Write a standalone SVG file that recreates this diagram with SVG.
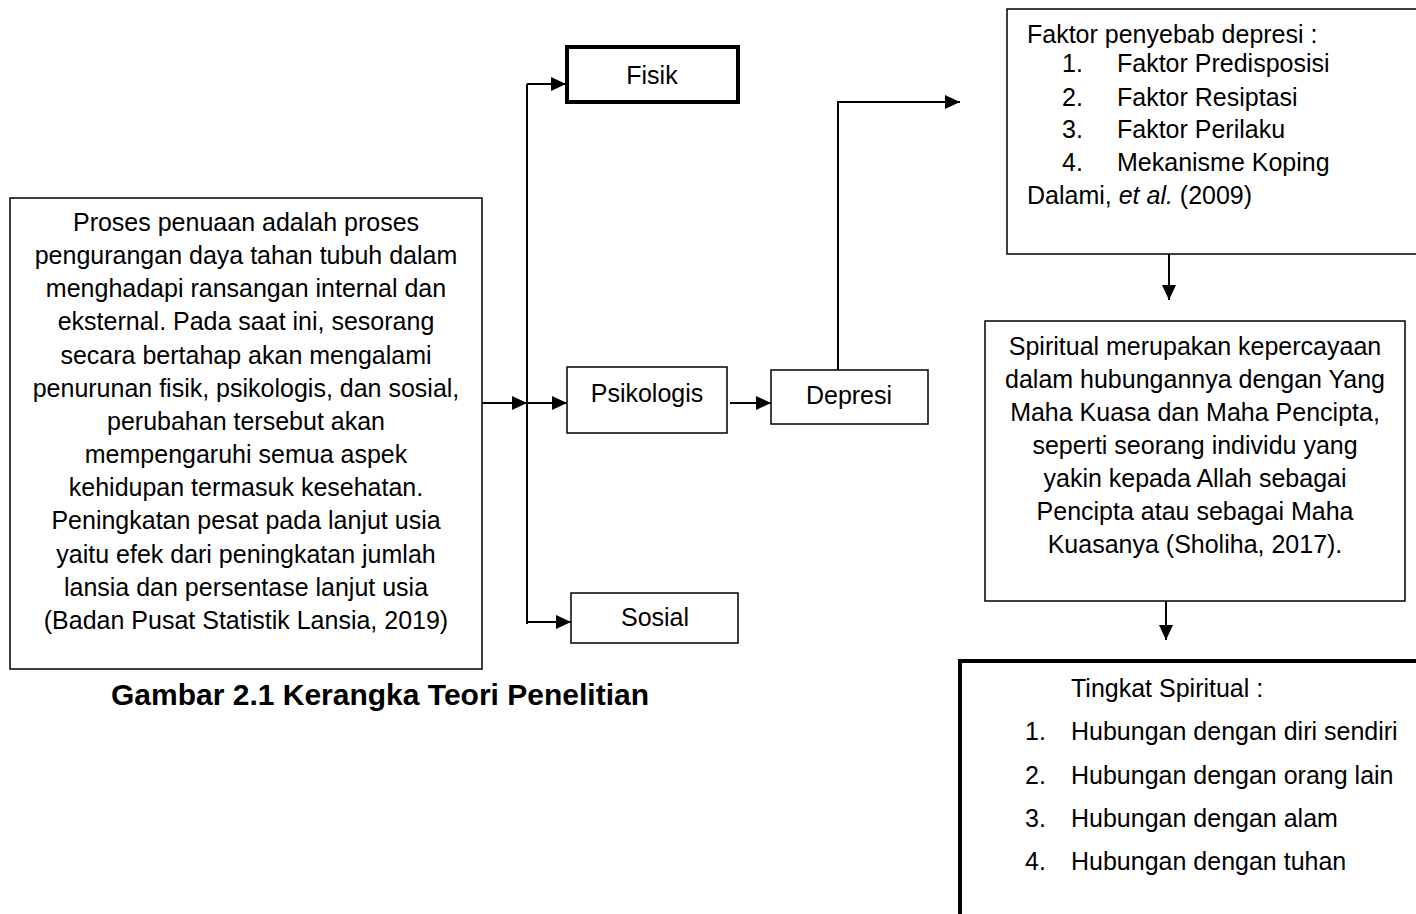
<svg xmlns="http://www.w3.org/2000/svg" width="1416" height="914" viewBox="0 0 1416 914">
<style>
text{font-family:"Liberation Sans",Arial,sans-serif;font-size:25px;fill:#000}
.c{text-anchor:middle}
.cap{font-weight:bold;font-size:30px}
.box{fill:#fff;stroke:#000;stroke-width:1.5}
.thick{fill:#fff;stroke:#000;stroke-width:4}
.ln{fill:none;stroke:#000;stroke-width:2}
</style>
<defs>
<marker id="ah" markerUnits="userSpaceOnUse" markerWidth="15" markerHeight="14" refX="15" refY="7" orient="auto">
<path d="M0,0 L15,7 L0,14 Z" fill="#000"/>
</marker>
</defs>
<g id="connectors">
<line class="ln" x1="482" y1="403" x2="527" y2="403" marker-end="url(#ah)"/>
<line class="ln" x1="527" y1="84" x2="527" y2="624"/>
<line class="ln" x1="527" y1="84" x2="566" y2="84" marker-end="url(#ah)"/>
<line class="ln" x1="527" y1="403" x2="567" y2="403" marker-end="url(#ah)"/>
<line class="ln" x1="527" y1="622" x2="571" y2="622" marker-end="url(#ah)"/>
<line class="ln" x1="730" y1="403" x2="771" y2="403" marker-end="url(#ah)"/>
<polyline class="ln" points="838,370 838,102 960,102" marker-end="url(#ah)"/>
<line class="ln" x1="1169" y1="254" x2="1169" y2="300" marker-end="url(#ah)"/>
<line class="ln" x1="1166" y1="601" x2="1166" y2="640" marker-end="url(#ah)"/>
</g>
<g id="proses">
<rect class="box" x="10" y="198" width="472" height="471"/>
<text class="c" x="246" y="231">Proses penuaan adalah proses</text>
<text class="c" x="246" y="264">pengurangan daya tahan tubuh dalam</text>
<text class="c" x="246" y="297">menghadapi ransangan internal dan</text>
<text class="c" x="246" y="330">eksternal. Pada saat ini, sesorang</text>
<text class="c" x="246" y="364">secara bertahap akan mengalami</text>
<text class="c" x="246" y="397">penurunan fisik, psikologis, dan sosial,</text>
<text class="c" x="246" y="430">perubahan tersebut akan</text>
<text class="c" x="246" y="463">mempengaruhi semua aspek</text>
<text class="c" x="246" y="496">kehidupan termasuk kesehatan.</text>
<text class="c" x="246" y="529">Peningkatan pesat pada lanjut usia</text>
<text class="c" x="246" y="563">yaitu efek dari peningkatan jumlah</text>
<text class="c" x="246" y="596">lansia dan persentase lanjut usia</text>
<text class="c" x="246" y="629">(Badan Pusat Statistik Lansia, 2019)</text>
</g>
<g id="fisik">
<rect class="thick" x="567" y="47" width="171" height="55"/>
<text class="c" x="652" y="84">Fisik</text>
</g>
<g id="psikologis">
<rect class="box" x="567" y="367" width="160" height="66"/>
<text class="c" x="647" y="402">Psikologis</text>
</g>
<g id="sosial">
<rect class="box" x="571" y="593" width="167" height="50"/>
<text class="c" x="655" y="626">Sosial</text>
</g>
<g id="depresi">
<rect class="box" x="771" y="370" width="157" height="54"/>
<text class="c" x="849" y="404">Depresi</text>
</g>
<g id="faktor">
<rect class="box" x="1007" y="9" width="460" height="245"/>
<text x="1027" y="43">Faktor penyebab depresi :</text>
<text x="1062" y="72">1.</text><text x="1117" y="72">Faktor Predisposisi</text>
<text x="1062" y="106">2.</text><text x="1117" y="106">Faktor Resiptasi</text>
<text x="1062" y="138">3.</text><text x="1117" y="138">Faktor Perilaku</text>
<text x="1062" y="171">4.</text><text x="1117" y="171">Mekanisme Koping</text>
<text x="1027" y="204">Dalami, <tspan font-style="italic">et al.</tspan> (2009)</text>
</g>
<g id="spiritual">
<rect class="box" x="985" y="321" width="420" height="280"/>
<text class="c" x="1195" y="355">Spiritual merupakan kepercayaan</text>
<text class="c" x="1195" y="388">dalam hubungannya dengan Yang</text>
<text class="c" x="1195" y="421">Maha Kuasa dan Maha Pencipta,</text>
<text class="c" x="1195" y="454">seperti seorang individu yang</text>
<text class="c" x="1195" y="487">yakin kepada Allah sebagai</text>
<text class="c" x="1195" y="520">Pencipta atau sebagai Maha</text>
<text class="c" x="1195" y="553">Kuasanya (Sholiha, 2017).</text>
</g>
<g id="tingkat">
<rect class="thick" x="960" y="661" width="520" height="300"/>
<text x="1071" y="697">Tingkat Spiritual :</text>
<text x="1025" y="740">1.</text><text x="1071" y="740">Hubungan dengan diri sendiri</text>
<text x="1025" y="784">2.</text><text x="1071" y="784">Hubungan dengan orang lain</text>
<text x="1025" y="827">3.</text><text x="1071" y="827">Hubungan dengan alam</text>
<text x="1025" y="870">4.</text><text x="1071" y="870">Hubungan dengan tuhan</text>
</g>
<g id="caption">
<text class="c cap" x="380" y="705">Gambar 2.1 Kerangka Teori Penelitian</text>
</g>
</svg>
